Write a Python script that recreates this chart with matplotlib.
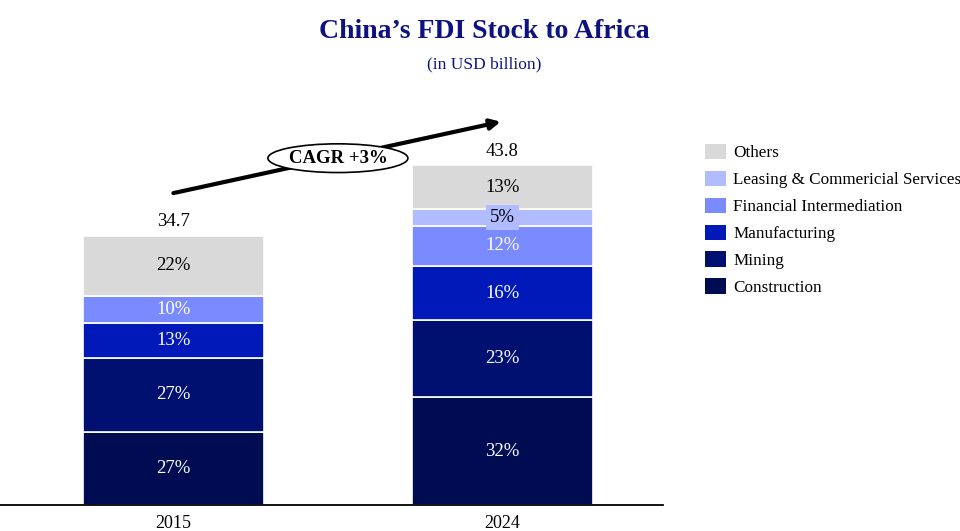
import matplotlib
matplotlib.use("Agg")
import matplotlib.pyplot as plt
from matplotlib.patches import Ellipse, Patch
import numpy as np

plt.rcParams['font.family'] = ['Liberation Serif', 'DejaVu Serif']

years = ["2015", "2024"]
totals = [34.7, 43.8]
sectors = ["Construction", "Mining", "Manufacturing", "Financial Intermediation",
           "Leasing & Commericial Services", "Others"]
# sector shares of the stock, in percent (bottom to top)
shares = {
    "Construction": [27, 32],
    "Mining": [27, 23],
    "Manufacturing": [13, 16],
    "Financial Intermediation": [10, 12],
    "Leasing & Commericial Services": [0, 5],
    "Others": [22, 13],
}
colors = {
    "Construction": "#000C52",
    "Mining": "#001070",
    "Manufacturing": "#0019B8",
    "Financial Intermediation": "#7A8AFF",
    "Leasing & Commericial Services": "#B0BCFF",
    "Others": "#D9D9D9",
}
label_colors = {
    "Construction": "white",
    "Mining": "white",
    "Manufacturing": "white",
    "Financial Intermediation": "white",
    "Leasing & Commericial Services": "black",
    "Others": "black",
}
cagr_text = "CAGR +3%"

fig = plt.figure(figsize=(9.6, 5.31), dpi=100)
ax = fig.add_axes([0.0, 26 / 531, 663 / 960, 405 / 531])
x = np.arange(len(years))
bar_w = 0.55

share_sums = [sum(shares[s][i] for s in sectors) for i in range(len(years))]
bottoms = np.zeros(len(years))
for s in sectors:
    vals = np.array([totals[i] * shares[s][i] / share_sums[i] for i in range(len(years))])
    ax.bar(x, vals, bar_w, bottom=bottoms, color=colors[s], edgecolor="white",
           linewidth=1.2, zorder=2)
    for i in range(len(years)):
        if shares[s][i] <= 0:
            continue
        yc = bottoms[i] + vals[i] / 2
        kw = {}
        if vals[i] < 3:
            kw["bbox"] = dict(boxstyle="square,pad=0.2", fc=colors[s], ec="none")
        ax.text(x[i], yc, f"{shares[s][i]}%", ha="center", va="center",
                fontsize=13.5, color=label_colors[s], zorder=3, **kw)
    bottoms += vals

for i, t in enumerate(totals):
    ax.text(x[i], t + 1.8, f"{t}", ha="center", va="center", fontsize=13.5, color="black")

ax.set_xlim(-0.527, 1.488)
ax.set_ylim(0, 52.2)
for side in ["top", "right", "left"]:
    ax.spines[side].set_visible(False)
ax.spines["bottom"].set_linewidth(1.3)
ax.set_yticks([])
ax.set_xticks(x)
ax.set_xticklabels(years, fontsize=13)
ax.tick_params(axis="x", length=0, pad=7)

# growth arrow with CAGR callout
ax.annotate("", xy=(0.995, 49.4), xytext=(0.0, 40.2),
            arrowprops=dict(arrowstyle="-|>,head_length=0.6,head_width=0.3",
                            color="black", lw=3, shrinkA=0, shrinkB=0),
            zorder=4)
ax.add_patch(Ellipse((0.5, 44.7), 0.4255, 3.7, facecolor="white", edgecolor="black",
                     linewidth=1.2, zorder=5))
ax.text(0.5, 44.7, cagr_text, ha="center", va="center", fontsize=13.5,
        fontweight="bold", zorder=6)

fig.text(0.504, 0.940, "China\u2019s FDI Stock to Africa", ha="center", va="center",
         fontsize=20, fontweight="bold", color="#0D1280")
fig.text(0.504, 0.879, "(in USD billion)", ha="center", va="center",
         fontsize=12.5, color="#0D1280")

handles = [Patch(facecolor=colors[s], edgecolor="none") for s in reversed(sectors)]
fig.legend(handles, list(reversed(sectors)), loc="upper left",
           bbox_to_anchor=(0.7344, 0.729), frameon=False, fontsize=12.3,
           handlelength=1.2, handleheight=1.0, handletextpad=0.45,
           labelspacing=0.55, borderaxespad=0, borderpad=0)

fig.savefig("out.png", dpi=100)
